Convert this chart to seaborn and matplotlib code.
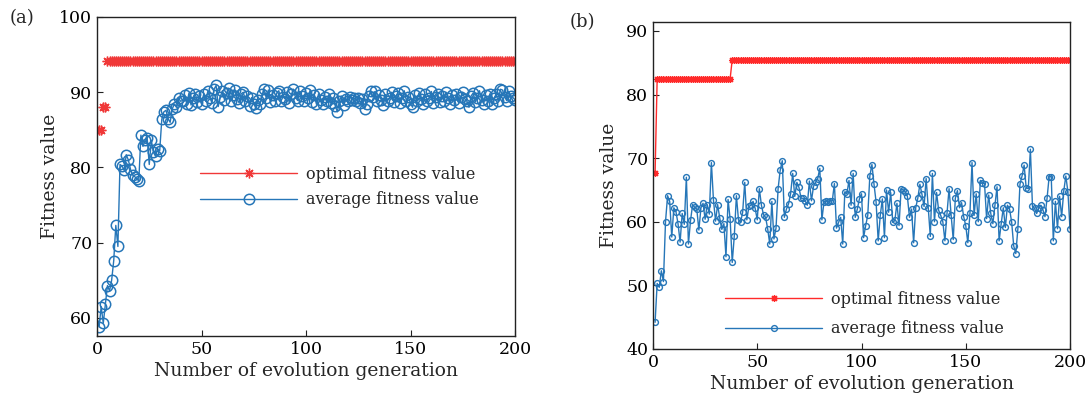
import matplotlib
matplotlib.use("Agg")
import matplotlib.pyplot as plt
from matplotlib.lines import Line2D
import seaborn as sns

# generations 1..200
gens = list(range(1, 201))

# (a) optimal fitness value (step curve)
opt_a = [85.0] * 2 + [88.0] * 2 + [94.2] * 196

# (a) average fitness value
avg_a = [
    58.8, 61.5, 59.3, 61.8, 64.3, 63.6, 65.0, 67.6, 72.3, 69.5,
    80.4, 80.2, 79.6, 81.7, 81.0, 79.8, 79.0, 78.8, 78.5, 78.2,
    84.3, 82.8, 83.6, 83.9, 80.4, 83.6, 82.0, 81.5, 82.5, 82.2,
    86.4, 87.4, 87.6, 86.5, 86.0, 87.8, 88.4, 88.0, 89.2, 88.8,
    88.9, 89.6, 88.5, 89.9, 88.3, 89.2, 89.8, 88.7, 89.5, 88.4,
    89.7, 88.8, 90.1, 89.3, 88.6, 90.4, 90.9, 88.1, 89.4, 90.2,
    89.0, 89.9, 90.5, 88.8, 89.6, 90.3, 89.1, 88.6, 89.8, 90.0,
    88.9, 89.5, 88.2, 89.3, 88.5, 87.9, 89.0, 88.4, 89.7, 90.4,
    89.2, 90.3, 88.7, 89.6, 88.9, 89.9, 90.2, 88.8, 89.4, 89.1,
    90.0, 88.6, 89.7, 90.4, 89.3, 88.9, 90.1, 89.5, 88.8, 89.9,
    89.2, 90.3, 88.7, 89.6, 88.4, 89.8, 89.0, 88.5, 89.4, 88.9,
    89.7, 88.6, 89.3, 88.2, 87.4, 88.9, 89.5, 88.3, 89.1, 88.8,
    89.4, 89.0, 89.2, 88.9, 89.3, 88.6, 89.1, 87.8, 88.4, 89.5,
    90.2, 89.4, 90.1, 88.8, 89.6, 89.0, 88.3, 89.7, 88.9, 89.2,
    90.0, 88.7, 89.5, 89.9, 88.6, 89.3, 90.2, 88.9, 89.4, 88.5,
    88.0, 89.6, 88.8, 89.9, 89.1, 88.4, 89.7, 88.9, 89.3, 90.1,
    88.6, 89.4, 89.8, 88.7, 89.5, 88.9, 90.0, 89.2, 88.5, 89.6,
    89.0, 89.8, 88.6, 89.4, 90.0, 89.1, 88.8, 88.0, 89.5, 89.9,
    88.7, 89.3, 90.2, 89.0, 88.5, 89.6, 88.9, 89.8, 88.4, 89.2,
    89.7, 88.8, 90.4, 90.3, 89.4, 88.9, 90.1, 89.5, 89.3, 89.0,
]

# (b) optimal fitness value (step curve)
opt_b = [67.7] + [82.5] * 36 + [85.5] * 163

# (b) average fitness value
avg_b = [
    44.2, 50.3, 49.7, 52.3, 50.6, 60.0, 64.1, 63.2, 57.6, 62.2,
    61.6, 59.7, 56.8, 61.3, 59.6, 67.0, 56.5, 60.2, 62.7, 62.3,
    62.0, 58.7, 62.2, 62.9, 60.4, 62.7, 61.2, 69.3, 63.4, 60.1,
    62.7, 60.6, 58.8, 59.7, 54.5, 63.5, 60.4, 53.6, 57.8, 64.1,
    60.3, 59.9, 61.5, 66.2, 60.3, 62.4, 62.6, 63.2, 62.1, 60.3,
    65.2, 62.6, 61.1, 60.7, 58.9, 56.5, 63.2, 57.3, 59.0, 65.2,
    68.1, 69.6, 60.7, 62.0, 62.8, 64.4, 67.6, 64.0, 66.2, 65.4,
    63.7, 63.7, 63.3, 62.6, 66.4, 63.3, 65.6, 66.2, 66.8, 68.4,
    60.3, 63.1, 63.3, 63.1, 63.3, 63.3, 66.0, 59.0, 59.9, 60.7,
    56.5, 64.7, 64.4, 66.5, 62.6, 67.6, 60.7, 62.0, 63.6, 64.4,
    57.5, 59.4, 61.0, 67.2, 69.0, 65.9, 63.1, 57.0, 61.0, 63.6,
    57.5, 65.0, 61.5, 64.6, 59.9, 60.2, 62.9, 59.4, 65.2, 65.0,
    64.7, 64.0, 60.7, 62.0, 56.7, 62.2, 63.7, 65.9, 64.3, 62.4,
    66.8, 62.2, 57.7, 67.6, 60.0, 64.6, 61.8, 61.0, 60.0, 57.0,
    61.3, 65.2, 61.0, 57.2, 63.7, 64.9, 62.2, 63.0, 60.8, 59.4,
    56.7, 61.3, 69.3, 61.0, 64.4, 60.0, 66.5, 66.1, 66.0, 60.5,
    64.2, 61.3, 59.7, 62.6, 65.5, 57.0, 59.7, 62.2, 59.1, 62.6,
    62.0, 60.0, 56.2, 55.0, 58.9, 65.9, 67.2, 68.9, 65.3, 65.2,
    71.4, 62.4, 62.1, 61.3, 62.1, 62.6, 61.9, 60.8, 63.7, 67.1,
    67.1, 57.0, 63.2, 58.9, 64.0, 60.8, 64.8, 67.2, 64.7, 58.9,
]

xticks = [0, 50, 100, 150, 200]
label_opt = "optimal fitness value"
label_avg = "average fitness value"

RED_A = "#f03838"
RED_B = "#ff2a2a"
BLUE = "#2676b8"
ASTER = (8, 2, 0)

sns.set_style("ticks")
plt.rcParams["font.family"] = ["DejaVu Serif"]

W, H = 1088, 408
fig = plt.figure(figsize=(W / 100, H / 100), dpi=100)
# panels were laid out separately, so their boxes are not aligned
ax1 = fig.add_axes([97 / W, 1 - 336 / H, (515 - 97) / W, (336 - 17) / H])
ax2 = fig.add_axes([653 / W, 1 - 349 / H, (1070 - 653) / W, (349 - 22) / H])

# ---- panel (a)
sns.lineplot(x=gens, y=opt_a, ax=ax1, color=RED_A, linestyle="none",
             marker=ASTER, markersize=7, markeredgecolor=RED_A,
             markeredgewidth=1.0)
sns.lineplot(x=gens, y=avg_a, ax=ax1, color=BLUE, linewidth=1.0,
             marker="o", markersize=7.5, markerfacecolor="none",
             markeredgecolor=BLUE, markeredgewidth=1.1)
ax1.set_xlim(0, 200)
ax1.set_ylim(57.6, 100)
ax1.set_yticks([60, 70, 80, 90, 100])

hand_a = [
    Line2D([], [], color=RED_A, lw=1.0, marker=ASTER, markersize=7,
           markeredgecolor=RED_A, markeredgewidth=1.0),
    Line2D([], [], color=BLUE, lw=1.0, marker="o", markersize=7.5,
           markerfacecolor="none", markeredgecolor=BLUE, markeredgewidth=1.1),
]
ax1.legend(hand_a, [label_opt, label_avg], loc="center left",
           bbox_to_anchor=(0.231, 0.467), frameon=False, fontsize=11.5,
           handlelength=6.1, handletextpad=0.55, labelspacing=0.55,
           borderaxespad=0)

# ---- panel (b)
sns.lineplot(x=gens, y=opt_b, ax=ax2, color=RED_B, linewidth=1.0,
             marker=ASTER, markersize=5, markeredgecolor=RED_B,
             markeredgewidth=0.9)
sns.lineplot(x=gens, y=avg_b, ax=ax2, color=BLUE, linewidth=1.0,
             marker="o", markersize=4.2, markerfacecolor="none",
             markeredgecolor=BLUE, markeredgewidth=1.0)
ax2.set_xlim(0, 200)
ax2.set_ylim(40, 91.4)
ax2.set_yticks([40, 50, 60, 70, 80, 90])

hand_b = [
    Line2D([], [], color=RED_B, lw=1.0, marker=ASTER, markersize=5,
           markeredgecolor=RED_B, markeredgewidth=0.9),
    Line2D([], [], color=BLUE, lw=1.0, marker="o", markersize=4.2,
           markerfacecolor="none", markeredgecolor=BLUE, markeredgewidth=1.0),
]
ax2.legend(hand_b, [label_opt, label_avg], loc="center left",
           bbox_to_anchor=(0.157, 0.107), frameon=False, fontsize=11.5,
           handlelength=6.1, handletextpad=0.55, labelspacing=0.8,
           borderaxespad=0)

for ax, lp in ((ax1, 0), (ax2, 6)):
    ax.set_xticks(xticks)
    ax.set_xlabel("Number of evolution generation", fontsize=13.5, labelpad=3)
    ax.set_ylabel("Fitness value", fontsize=13.5, labelpad=lp)
    ax.tick_params(direction="in", length=4, width=0.8, labelsize=12.5,
                   top=False, right=False, colors="#222222", labelcolor="black")
    for s in ax.spines.values():
        s.set_visible(True)
        s.set_linewidth(1.0)
        s.set_color("#222222")

fig.text(10 / W, 1 - 18 / H, "(a)", fontsize=13, va="center", ha="left")
fig.text(570 / W, 1 - 22 / H, "(b)", fontsize=13, va="center", ha="left")

fig.savefig("out.png", dpi=100)
